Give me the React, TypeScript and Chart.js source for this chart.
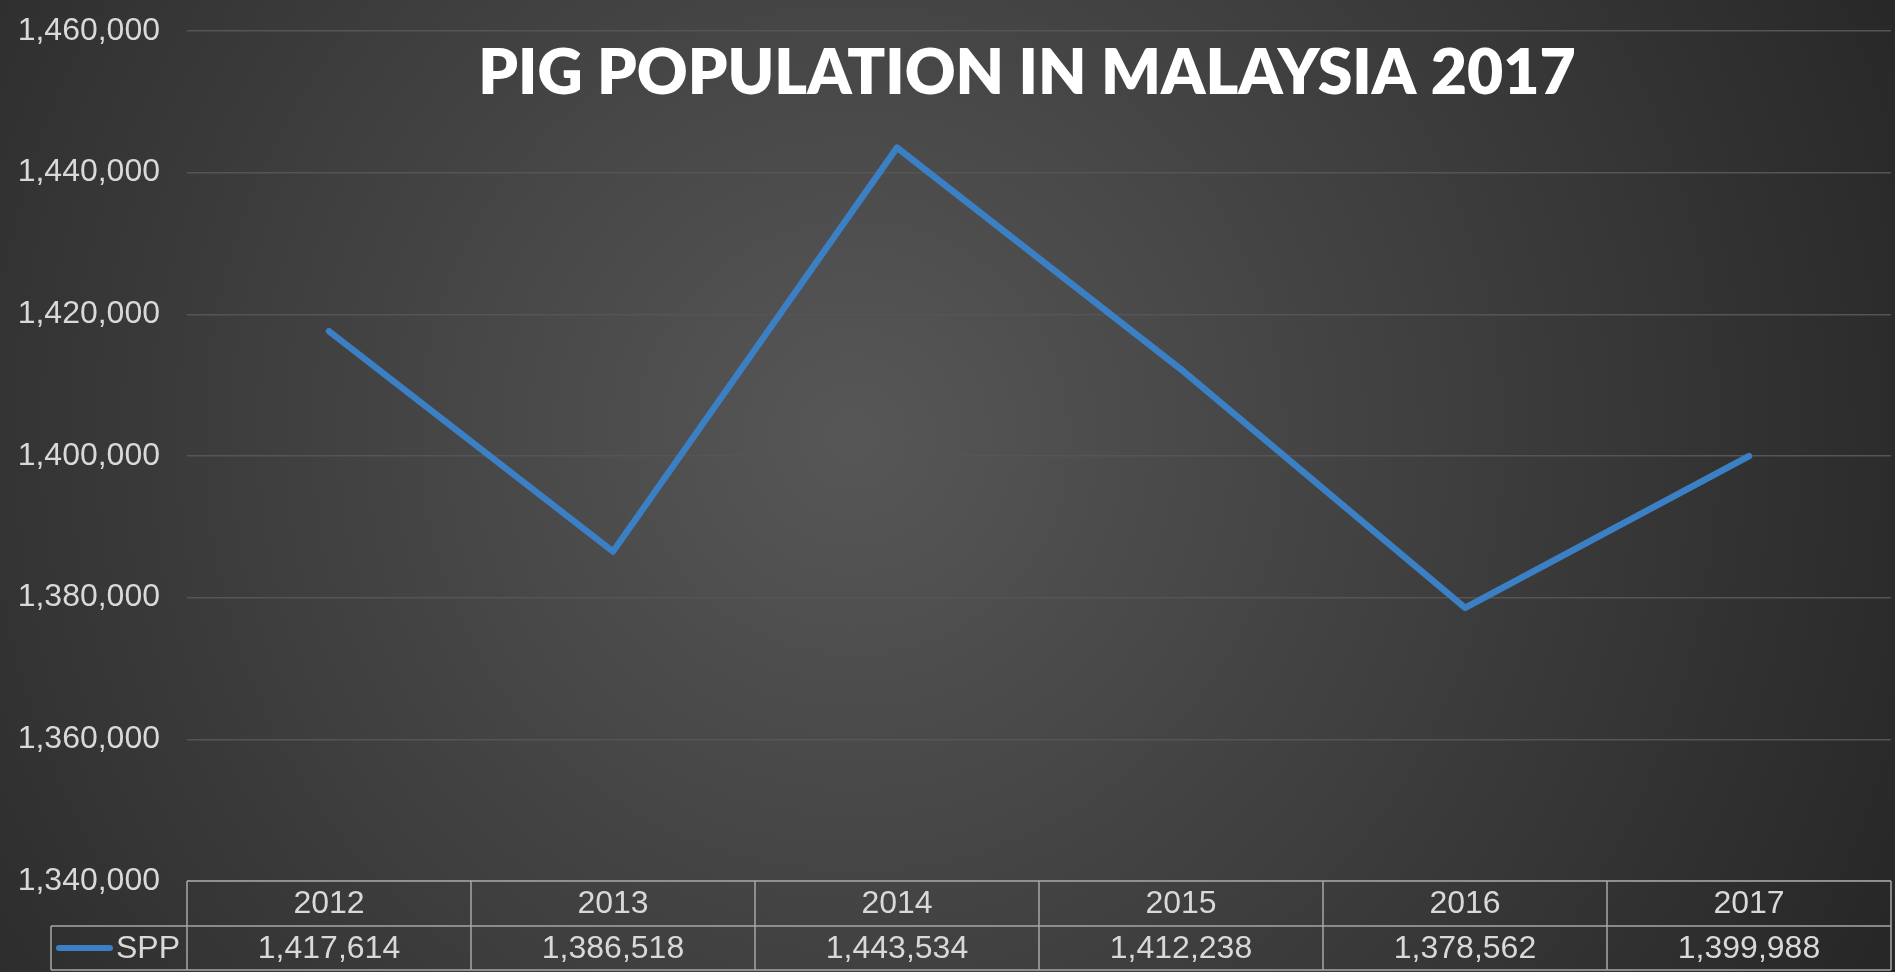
import React, { useEffect, useRef } from 'react';
import { Chart, registerables } from 'chart.js';

Chart.register(...registerables);

const TITLE = 'PIG POPULATION IN MALAYSIA 2017';
const YEARS = ['2012', '2013', '2014', '2015', '2016', '2017'];
const SERIES_NAME = 'SPP';
const SPP = [1417614, 1386518, 1443534, 1412238, 1378562, 1399988];
const Y_MIN = 1340000;
const Y_MAX = 1460000;
const Y_STEP = 20000;

const LINE_COLOR = '#3b80c4';
const TEXT_COLOR = '#d9d9d9';
const BORDER_COLOR = '#a6a6a6';
const FONT = '"Liberation Sans", Arial, sans-serif';

const fmt = (v: number) => v.toLocaleString('en-US');

const backgroundPlugin = {
  id: 'bgGradient',
  beforeDraw(chart: any) {
    const { ctx, width, height } = chart;
    ctx.save();
    const g = ctx.createRadialGradient(width * 0.45, height * 0.45, 0, width * 0.45, height * 0.45, width * 0.62);
    g.addColorStop(0, '#575757');
    g.addColorStop(1, '#262626');
    ctx.fillStyle = g;
    ctx.fillRect(0, 0, width, height);
    ctx.restore();
  },
};

const titlePlugin = {
  id: 'overlayTitle',
  afterDraw(chart: any) {
    const { ctx, chartArea } = chart;
    ctx.save();
    ctx.font = '800 62.5px Lato, "Open Sans", sans-serif';
    ctx.fillStyle = '#ffffff';
    ctx.textAlign = 'center';
    ctx.textBaseline = 'alphabetic';
    ctx.fillText(TITLE, (chartArea.left + chartArea.right) / 2 - 12, 94);
    ctx.restore();
  },
};

const tablePlugin = {
  id: 'dataTable',
  afterDraw(chart: any) {
    const { ctx, chartArea } = chart;
    const xs = chart.scales.x;
    const n = YEARS.length;
    const left = chartArea.left;
    const right = chartArea.right;
    const colW = (right - left) / n;
    const top = chartArea.bottom;
    const mid = top + 45;
    const bottom = top + 89;
    const legendLeft = 51;

    ctx.save();
    ctx.strokeStyle = BORDER_COLOR;
    ctx.lineWidth = 1.5;
    ctx.beginPath();
    ctx.moveTo(left, top);
    ctx.lineTo(right, top);
    ctx.moveTo(legendLeft, mid);
    ctx.lineTo(right, mid);
    ctx.moveTo(legendLeft, bottom);
    ctx.lineTo(right, bottom);
    ctx.moveTo(legendLeft, mid);
    ctx.lineTo(legendLeft, bottom);
    for (let i = 0; i <= n; i++) {
      const x = left + i * colW;
      ctx.moveTo(x, top);
      ctx.lineTo(x, bottom);
    }
    ctx.stroke();

    ctx.fillStyle = TEXT_COLOR;
    ctx.font = `32px ${FONT}`;
    ctx.textAlign = 'center';
    ctx.textBaseline = 'middle';
    YEARS.forEach((yr, i) => {
      const cx = xs.getPixelForValue(i);
      ctx.fillText(yr, cx, (top + mid) / 2 + 1);
      ctx.fillText(fmt(SPP[i]), cx, (mid + bottom) / 2 + 1);
    });

    ctx.strokeStyle = LINE_COLOR;
    ctx.lineWidth = 6;
    ctx.lineCap = 'round';
    ctx.beginPath();
    const ly = (mid + bottom) / 2;
    ctx.moveTo(59, ly);
    ctx.lineTo(110, ly);
    ctx.stroke();
    ctx.textAlign = 'left';
    ctx.fillText(SERIES_NAME, 116, ly + 1);
    ctx.restore();
  },
};

export default function App() {
  const canvasRef = useRef<HTMLCanvasElement | null>(null);

  useEffect(() => {
    document.body.style.margin = '0';
    const canvas = canvasRef.current;
    if (!canvas) return;
    const chart = new Chart(canvas, {
      type: 'line',
      data: {
        labels: YEARS,
        datasets: [
          {
            label: SERIES_NAME,
            data: SPP,
            borderColor: LINE_COLOR,
            borderWidth: 6.5,
            borderCapStyle: 'round',
            borderJoinStyle: 'round',
            pointRadius: 0,
            tension: 0,
            fill: false,
          },
        ],
      },
      options: {
        responsive: false,
        animation: false,
        layout: { padding: { top: 31, bottom: 91, left: 0, right: 4 } },
        plugins: {
          legend: { display: false },
          title: { display: false },
          tooltip: { enabled: false },
        },
        scales: {
          x: {
            type: 'category',
            display: false,
            offset: true,
          },
          y: {
            min: Y_MIN,
            max: Y_MAX,
            afterFit(scale: any) {
              scale.width = 187;
              scale.paddingTop = 0;
              scale.paddingBottom = 0;
            },
            border: { display: false },
            grid: { color: '#555555', lineWidth: 1.5, drawTicks: false },
            ticks: {
              stepSize: Y_STEP,
              padding: 27,
              color: TEXT_COLOR,
              font: { family: FONT, size: 32 },
              callback: (v: any) => fmt(Number(v)),
            },
          },
        },
      },
      plugins: [backgroundPlugin, titlePlugin, tablePlugin],
    });
    return () => chart.destroy();
  }, []);

  return (
    <div style={{ width: 1895, height: 972 }}>
      <canvas ref={canvasRef} width={1895} height={972} style={{ display: 'block' }} />
    </div>
  );
}
